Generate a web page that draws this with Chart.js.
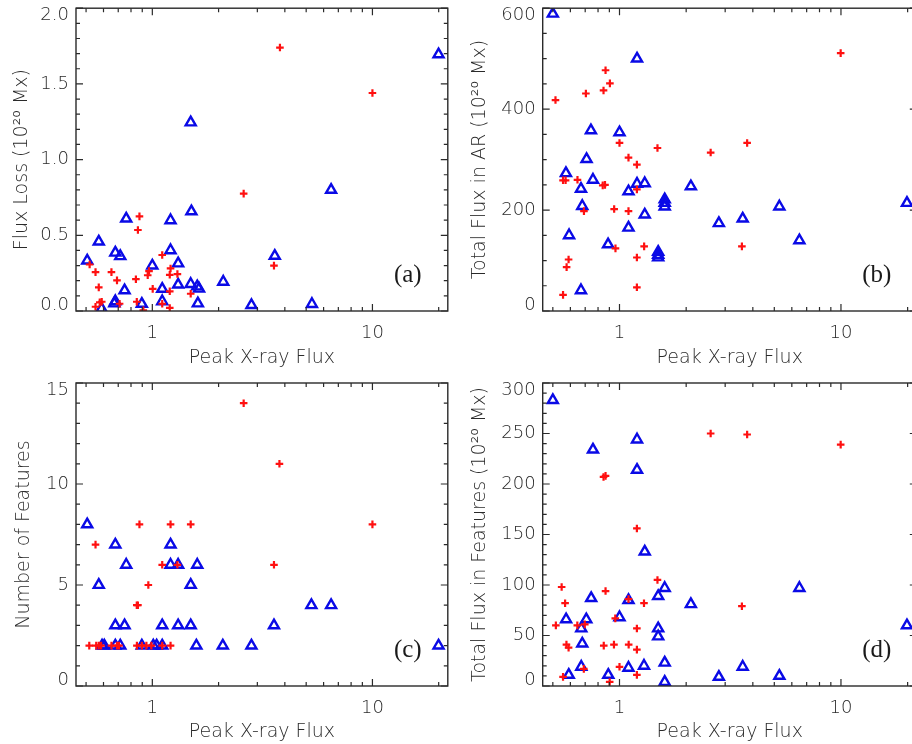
<!DOCTYPE html>
<html>
<head>
<meta charset="utf-8">
<script src="https://cdn.jsdelivr.net/npm/chart.js@4"></script>
<style>
  html, body { margin: 0; padding: 0; background: #fff; overflow: hidden; width: 912px; height: 744px; }
  canvas { position: absolute; }
</style>
</head>
<body>
<canvas id="chartA" style="left:0;top:0"></canvas>
<canvas id="chartB" style="left:456px;top:0"></canvas>
<canvas id="chartC" style="left:0;top:372px"></canvas>
<canvas id="chartD" style="left:456px;top:372px"></canvas>
<script>
// peak X-ray flux is shared by all four panels (log axis)
const xTicks = [0.5, 0.6, 0.7, 0.8, 0.9, 1, 2, 3, 4, 5, 6, 7, 8, 9, 10, 20];
const xLabels = [1, 10];

// (a) flux loss
const lossRed = [[3.80,1.74],[10.0,1.44],[2.60,0.775],[3.57,0.30],[0.874,0.625],[0.86,0.535],[0.519,0.307],[0.552,0.257],[0.652,0.257],[0.691,0.202],[0.571,0.156],[0.842,0.21],[0.953,0.236],[0.966,0.264],[1.004,0.146],[1.109,0.37],[1.21,0.281],[1.20,0.239],[1.30,0.244],[1.20,0.13],[1.494,0.114],[0.552,0.028],[0.577,0.057],[0.589,0.061],[0.71,0.048],[0.85,0.061],[0.91,0.004],[1.109,0.048],[1.20,0.02]];
const lossBlue = [[19.97,1.695],[1.494,1.245],[6.49,0.80],[1.505,0.658],[0.761,0.61],[1.21,0.599],[0.571,0.458],[0.679,0.385],[0.715,0.362],[0.506,0.333],[1.21,0.401],[1.31,0.314],[1.0,0.30],[3.60,0.364],[0.748,0.136],[1.109,0.146],[1.31,0.174],[1.494,0.178],[1.60,0.162],[1.63,0.147],[2.10,0.193],[2.82,0.039],[5.31,0.046],[1.61,0.05],[1.109,0.064],[0.679,0.064],[0.672,0.05],[0.896,0.047],[0.588,0.015]];

// (b) total flux in AR
const arRed = [[0.514,418],[0.705,431],[0.865,477],[0.847,437],[0.905,451],[9.97,511],[0.556,259],[0.571,259],[0.646,260],[0.84,249],[0.86,250],[0.691,198],[0.946,202],[1.098,198],[1.0,333],[1.098,304],[1.198,290],[1.198,241],[1.484,323],[2.58,314],[3.77,333],[0.959,124],[1.292,128],[1.198,106],[3.57,128],[0.589,102],[0.577,87],[0.556,32],[1.198,47]];
const arBlue = [[0.50,589],[1.20,500],[0.743,358],[1.0,354],[0.71,301],[0.573,273],[0.759,260],[0.67,242],[1.098,237],[1.20,252],[1.30,253],[2.10,247],[0.679,208],[1.60,221],[1.60,214],[1.60,207],[1.30,191],[5.27,207],[19.86,214],[0.592,150],[1.098,165],[2.81,174],[3.60,183],[6.49,140],[0.888,132],[1.495,117],[1.495,111],[1.495,106],[0.67,41]];

// (c) number of features
const numRed = [[2.60,14],[3.78,11],[10,8],[0.874,8],[1.21,8],[1.494,8],[0.552,7],[1.109,6],[1.30,6],[3.57,6],[0.959,5],[0.85,4],[0.86,4],[0.517,2],[0.556,2],[0.571,2],[0.585,2],[0.652,2],[0.691,2],[0.705,2],[0.851,2],[0.896,2],[0.94,2],[0.99,2],[1.109,2],[1.21,2]];
const numBlue = [[0.506,8],[0.679,7],[1.21,7],[0.761,6],[1.21,6],[1.31,6],[1.60,6],[0.571,5],[1.494,5],[5.28,4],[6.49,4],[0.679,3],[0.748,3],[1.109,3],[1.31,3],[1.494,3],[3.57,3],[0.591,2],[0.605,2],[0.679,2],[0.715,2],[0.896,2],[1.01,2],[1.046,2],[1.109,2],[1.585,2],[2.09,2],[2.82,2],[19.97,2]];

// (d) total flux in features
const featRed = [[2.58,250],[3.77,249],[9.97,239],[0.847,207],[0.865,208],[1.198,156],[1.484,105],[0.548,98],[0.865,94],[0.568,82],[1.29,82],[1.098,86],[3.57,79],[0.516,60],[0.645,60],[0.697,61],[0.957,67],[1.198,57],[0.576,41],[0.589,38],[0.849,40],[0.944,41],[1.10,41],[1.198,36],[0.69,17],[1.0,19],[1.198,11],[0.556,9],[0.903,4]];
const featBlue = [[0.50,283],[1.20,244],[0.759,234],[1.20,214],[1.30,133],[6.49,97],[1.60,97],[1.495,89],[0.745,87],[1.098,85],[2.10,81],[1.0,68],[0.574,66],[0.708,66],[0.672,57],[1.495,57],[1.495,49],[0.679,42],[19.86,60],[0.672,19],[1.098,18],[1.29,20],[1.60,23],[3.60,19],[0.59,11],[0.89,11],[2.81,9],[5.27,10],[1.60,4]];

const inkColor = '#2a2a2a';
const textFont = 'DejaVu Sans';

function toPoints(list) {
    return list.map(p => ({ x: p[0], y: p[1] }));
}

function range(lo, hi, step) {
    const out = [];
    for (let v = lo; v <= hi + step / 2; v += step) out.push(Math.round(v * 1000) / 1000);
    return out;
}

// IDL-style frame: box round the plot and tick marks pointing inwards on all four sides
const idlFrame = {
    id: 'idlFrame',
    beforeDraw(chart) {
        // nudge the end labels of the y axis inside the box, like IDL does
        const ys = chart.scales.y;
        const items = ys.getLabelItems(chart.chartArea);
        if (!items._nudged && items.length) {
            items[0].options.translation[1] -= 6;
            items[items.length - 1].options.translation[1] += 7;
            items._nudged = true;
        }
    },
    afterDraw(chart, args, opts) {
        const { ctx, chartArea: a, scales } = chart;
        ctx.save();
        ctx.strokeStyle = inkColor;
        ctx.lineWidth = 1.2;
        ctx.beginPath();
        scales.x.ticks.forEach(t => {
            const px = scales.x.getPixelForValue(t.value);
            const len = t.label ? 7 : 4;
            ctx.moveTo(px, a.bottom); ctx.lineTo(px, a.bottom - len);
            ctx.moveTo(px, a.top); ctx.lineTo(px, a.top + len);
        });
        scales.y.ticks.forEach(t => {
            const py = scales.y.getPixelForValue(t.value);
            const len = t.label ? 7 : 4;
            ctx.moveTo(a.left, py); ctx.lineTo(a.left + len, py);
            ctx.moveTo(a.right, py); ctx.lineTo(a.right - len, py);
        });
        ctx.stroke();
        ctx.lineWidth = 1.4;
        ctx.strokeRect(a.left, a.top, a.right - a.left, a.bottom - a.top);

        // panel letter
        ctx.fillStyle = '#1a1a1a';
        ctx.font = '25px "Liberation Serif"';
        ctx.textAlign = 'center';
        ctx.textBaseline = 'middle';
        ctx.fillText(opts.tag, a.right - 40, a.bottom - 36);
        ctx.restore();
    }
};

function makePanel(id, cfg) {
    const canvas = document.getElementById(id);
    canvas.width = cfg.width;
    canvas.height = 372;
    canvas.style.width = cfg.width + 'px';
    canvas.style.height = '372px';

    new Chart(canvas.getContext('2d'), {
        type: 'scatter',
        data: {
            datasets: [{
                data: toPoints(cfg.red),
                pointStyle: 'cross',
                pointRadius: 3.8,
                borderColor: '#ff1010',
                borderWidth: 2.2,
                clip: 0
            }, {
                data: toPoints(cfg.blue),
                pointStyle: 'triangle',
                pointRadius: 5.8,
                borderColor: '#0a0ae6',
                backgroundColor: 'rgba(0,0,0,0)',
                borderWidth: 2.4,
                clip: 0
            }]
        },
        options: {
            responsive: false,
            animation: false,
            events: [],
            layout: { padding: { top: cfg.top, right: cfg.width - cfg.right, left: 0, bottom: 0 } },
            plugins: {
                legend: { display: false },
                tooltip: { enabled: false },
                idlFrame: { tag: cfg.tag }
            },
            scales: {
                x: {
                    type: 'logarithmic',
                    min: 0.45,
                    max: 22,
                    grid: { display: false, drawTicks: false },
                    border: { display: false },
                    afterBuildTicks: scale => {
                        scale.ticks = xTicks.map(v => ({ value: v }));
                    },
                    afterFit: scale => {
                        scale.height = 372 - cfg.bottom;
                        scale.paddingLeft = 0;
                        scale.paddingRight = 0;
                    },
                    ticks: {
                        autoSkip: false,
                        maxRotation: 0,
                        padding: cfg.xPad,
                        color: inkColor,
                        font: { family: textFont, size: 18, weight: 300 },
                        callback: v => xLabels.includes(v) ? String(v) : ''
                    },
                    title: {
                        display: true,
                        text: 'Peak X-ray Flux',
                        color: inkColor,
                        font: { family: textFont, size: 19, weight: 300 },
                        padding: { top: 0, bottom: cfg.xTitlePad }
                    }
                },
                y: {
                    min: 0,
                    max: cfg.yMax,
                    grid: { display: false, drawTicks: false },
                    border: { display: false },
                    afterBuildTicks: scale => {
                        scale.ticks = range(0, cfg.yMax, cfg.minor).map(v => ({ value: v }));
                    },
                    afterFit: scale => {
                        scale.width = cfg.left;
                        scale.paddingTop = 0;
                        scale.paddingBottom = 0;
                    },
                    ticks: {
                        autoSkip: false,
                        padding: 7,
                        color: inkColor,
                        font: { family: textFont, size: 18, weight: 300 },
                        callback: v => {
                            const r = v / cfg.major;
                            return Math.abs(r - Math.round(r)) < 1e-6 ? v.toFixed(cfg.digits) : '';
                        }
                    },
                    title: {
                        display: true,
                        text: cfg.yTitle,
                        color: inkColor,
                        font: { family: textFont, size: 19, weight: 300 },
                        padding: { top: cfg.yTitlePad, bottom: 0 }
                    }
                }
            }
        },
        plugins: [idlFrame]
    });
}

makePanel('chartA', {
    width: 456, left: 76, right: 450, top: 7, bottom: 311,
    red: lossRed, blue: lossBlue, yMax: 2, major: 0.5, minor: 0.1, digits: 1,
    yTitle: 'Flux Loss (10\u00B2\u2070 Mx)', tag: '(a)', xPad: 11.5, xTitlePad: 2.3, yTitlePad: 10.3
});
makePanel('chartB', {
    width: 470, left: 86.7, right: 460.8, top: 7, bottom: 311,
    red: arRed, blue: arBlue, yMax: 600, major: 200, minor: 50, digits: 0,
    yTitle: 'Total Flux in AR (10\u00B2\u2070 Mx)', tag: '(b)', xPad: 11.5, xTitlePad: 2.3, yTitlePad: 12.6
});
makePanel('chartC', {
    width: 456, left: 76, right: 450, top: 11, bottom: 314,
    red: numRed, blue: numBlue, yMax: 15, major: 5, minor: 1, digits: 0,
    yTitle: 'Number of Features', tag: '(c)', xPad: 12, xTitlePad: 0.6, yTitlePad: 12.6
});
makePanel('chartD', {
    width: 470, left: 86.7, right: 460.8, top: 11, bottom: 314,
    red: featRed, blue: featBlue, yMax: 300, major: 50, minor: 10, digits: 0,
    yTitle: 'Total Flux in Features (10\u00B2\u2070 Mx)', tag: '(d)', xPad: 12, xTitlePad: 0.6, yTitlePad: 12.6
});
</script>
</body>
</html>
